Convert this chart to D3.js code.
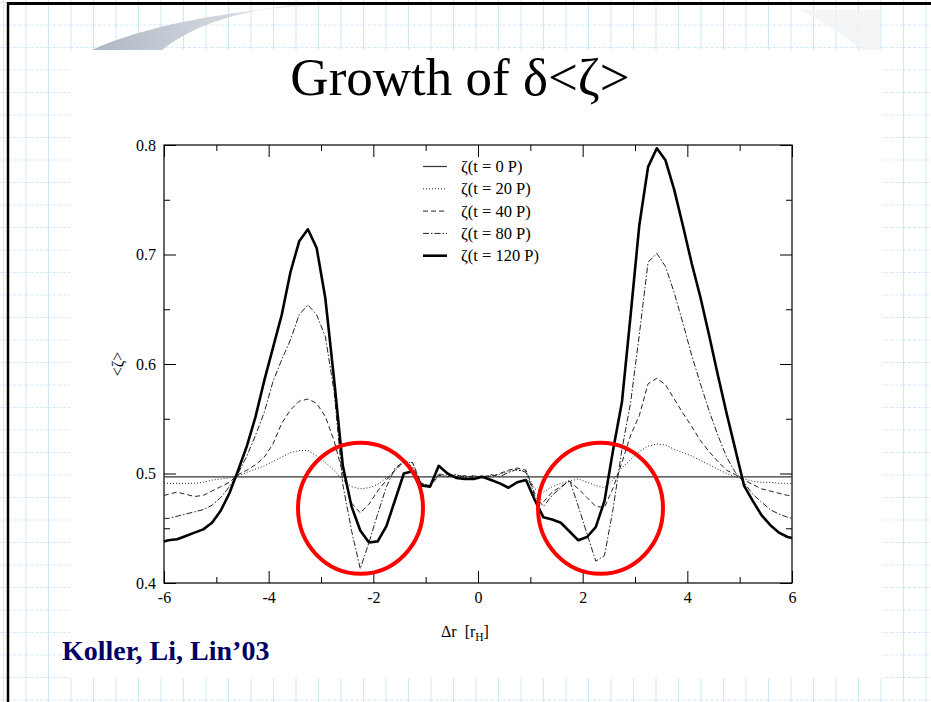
<!DOCTYPE html>
<html>
<head>
<meta charset="utf-8">
<script src="https://cdn.jsdelivr.net/npm/d3@7"></script>
<style>
  html, body { margin: 0; padding: 0; background: #fff; }
  svg { display: block; }
</style>
</head>
<body>
<svg id="slide" width="931" height="702"></svg>
<script>
// Radial positions (units of Hill radius)
const xs = [-6, -5.917, -5.75, -5.583, -5.417, -5.25, -5.083, -4.917, -4.75, -4.583,
  -4.417, -4.25, -4.083, -3.917, -3.75, -3.583, -3.417, -3.25, -3.083, -2.917,
  -2.75, -2.583, -2.417, -2.25, -2.083, -1.917, -1.75, -1.583, -1.417, -1.25,
  -1.083, -0.917, -0.75, -0.583, -0.417, -0.25, -0.083, 0.083, 0.25, 0.417,
  0.583, 0.75, 0.917, 1.083, 1.25, 1.417, 1.583, 1.75, 1.917, 2.083,
  2.25, 2.417, 2.583, 2.75, 2.917, 3.083, 3.25, 3.417, 3.583, 3.75,
  3.917, 4.083, 4.25, 4.417, 4.583, 4.75, 4.917, 5.083, 5.25, 5.417,
  5.583, 5.75, 5.917, 6];

// Initial profile is flat
const xs0 = [-6, 6];
const zeta0 = [0.497, 0.497];

const zeta20 = [0.491, 0.491, 0.491, 0.491, 0.491, 0.492, 0.494, 0.495, 0.496, 0.498,
  0.501, 0.504, 0.507, 0.511, 0.515, 0.519, 0.521, 0.521, 0.516, 0.510,
  0.503, 0.494, 0.488, 0.486, 0.487, 0.490, 0.496, 0.503, 0.510, 0.510,
  0.491, 0.489, 0.500, 0.498, 0.499, 0.497, 0.498, 0.497, 0.498, 0.499,
  0.502, 0.503, 0.502, 0.486, 0.483, 0.488, 0.491, 0.493, 0.495, 0.492,
  0.489, 0.487, 0.494, 0.505, 0.513, 0.520, 0.525, 0.527, 0.526, 0.522,
  0.519, 0.516, 0.512, 0.508, 0.504, 0.500, 0.497, 0.495, 0.493, 0.492,
  0.492, 0.491, 0.491, 0.491];

const zeta40 = [0.480, 0.481, 0.483, 0.481, 0.479, 0.480, 0.484, 0.488, 0.492, 0.499,
  0.503, 0.508, 0.515, 0.527, 0.546, 0.558, 0.566, 0.568, 0.564, 0.552,
  0.530, 0.500, 0.473, 0.464, 0.472, 0.484, 0.494, 0.503, 0.511, 0.510,
  0.490, 0.488, 0.498, 0.500, 0.497, 0.498, 0.496, 0.498, 0.497, 0.500,
  0.503, 0.505, 0.503, 0.482, 0.474, 0.483, 0.488, 0.493, 0.486, 0.478,
  0.470, 0.469, 0.487, 0.510, 0.535, 0.553, 0.582, 0.587, 0.581, 0.568,
  0.555, 0.543, 0.530, 0.520, 0.511, 0.503, 0.499, 0.494, 0.490, 0.486,
  0.484, 0.482, 0.480, 0.480];

const zeta80 = [0.459, 0.459, 0.461, 0.463, 0.465, 0.467, 0.471, 0.478, 0.488, 0.500,
  0.516, 0.535, 0.556, 0.584, 0.604, 0.622, 0.645, 0.654, 0.645, 0.625,
  0.575, 0.490, 0.448, 0.413, 0.437, 0.463, 0.488, 0.505, 0.511, 0.506,
  0.491, 0.489, 0.499, 0.497, 0.499, 0.496, 0.498, 0.496, 0.499, 0.497,
  0.501, 0.504, 0.501, 0.480, 0.470, 0.480, 0.487, 0.494, 0.470, 0.445,
  0.420, 0.425, 0.468, 0.522, 0.565, 0.627, 0.693, 0.701, 0.689, 0.665,
  0.637, 0.608, 0.582, 0.557, 0.535, 0.515, 0.501, 0.492, 0.481, 0.474,
  0.467, 0.463, 0.460, 0.459];

const zeta120 = [0.438, 0.439, 0.440, 0.443, 0.446, 0.449, 0.455, 0.466, 0.482, 0.503,
  0.525, 0.552, 0.585, 0.615, 0.645, 0.684, 0.712, 0.723, 0.706, 0.660,
  0.586, 0.507, 0.470, 0.448, 0.437, 0.438, 0.452, 0.476, 0.500, 0.502,
  0.489, 0.488, 0.507, 0.500, 0.496, 0.495, 0.495, 0.497, 0.494, 0.491,
  0.487, 0.492, 0.494, 0.476, 0.460, 0.458, 0.455, 0.447, 0.439, 0.442,
  0.451, 0.475, 0.522, 0.565, 0.645, 0.727, 0.780, 0.797, 0.786, 0.759,
  0.726, 0.692, 0.661, 0.626, 0.590, 0.555, 0.522, 0.489, 0.475, 0.462,
  0.453, 0.446, 0.442, 0.441];

const seriesLabels = ["ζ(t = 0 P)", "ζ(t = 20 P)", "ζ(t = 40 P)", "ζ(t = 80 P)", "ζ(t = 120 P)"];
const xTicks = [-6, -4, -2, 0, 2, 4, 6];
const xMinorTicks = [-5, -3, -1, 1, 3, 5];
const yTicks = [0.4, 0.5, 0.6, 0.7, 0.8];
const yMinorTicks = [0.45, 0.55, 0.65, 0.75];

// Highlighted dip regions: centre (x, value) and half-widths in data units
const dipCentersX = [-2.245, 2.341];
const dipCenterY = 0.4683;
const dipRadiusX = 1.194;
const dipRadiusY = 0.0598;

const series = [
  { label: seriesLabels[0], x: xs0, y: zeta0, width: 1.2, dash: null, color: "#333" },
  { label: seriesLabels[1], x: xs, y: zeta20, width: 1, dash: "1,2", color: "#222" },
  { label: seriesLabels[2], x: xs, y: zeta40, width: 1, dash: "5,3", color: "#222" },
  { label: seriesLabels[3], x: xs, y: zeta80, width: 1, dash: "6,2,1.5,2", color: "#222" },
  { label: seriesLabels[4], x: xs, y: zeta120, width: 2.6, dash: null, color: "#000" }
];

const svg = d3.select("#slide");
const W = 931, H = 702;
const serif = "'Liberation Serif', 'Times New Roman', serif";

// ---------- slide background ----------
const defs = svg.append("defs");
const grid = defs.append("pattern")
  .attr("id", "gridPat").attr("patternUnits", "userSpaceOnUse")
  .attr("width", 22.5).attr("height", 22.5).attr("x", 3).attr("y", 2);
grid.append("rect").attr("width", 22.5).attr("height", 22.5).attr("fill", "#fff");
grid.append("line").attr("x1", 0.5).attr("x2", 0.5).attr("y1", 0).attr("y2", 22.5)
  .attr("stroke", "#cfe8f6").attr("stroke-width", 1);
grid.append("line").attr("x1", 0).attr("x2", 22.5).attr("y1", 0.5).attr("y2", 0.5)
  .attr("stroke", "#cfe8f6").attr("stroke-width", 1).attr("stroke-dasharray", "3,2");

svg.append("rect").attr("width", W).attr("height", H).attr("fill", "url(#gridPat)");

const swoosh = defs.append("linearGradient").attr("id", "swooshGrad")
  .attr("x1", "0%").attr("x2", "100%").attr("y1", "0%").attr("y2", "0%");
swoosh.append("stop").attr("offset", "0%").attr("stop-color", "#aeb8c4");
swoosh.append("stop").attr("offset", "100%").attr("stop-color", "#eef1f4");
svg.append("path")
  .attr("d", "M92,50 C140,28 220,10 330,4 L300,4 C230,12 190,28 162,50 Z")
  .attr("fill", "url(#swooshGrad)");
svg.append("path")
  .attr("d", "M800,10 L880,10 L880,70 C860,45 830,25 800,10 Z")
  .attr("fill", "#f1f3f5").attr("opacity", 0.8);

// white content panel
svg.append("rect").attr("x", 70).attr("y", 50).attr("width", 812).attr("height", 628).attr("fill", "#fff");

// slide frame lines
svg.append("line").attr("x1", 7).attr("x2", W).attr("y1", 3.5).attr("y2", 3.5)
  .attr("stroke", "#000").attr("stroke-width", 3);
svg.append("line").attr("x1", 8).attr("x2", 8).attr("y1", 2).attr("y2", H)
  .attr("stroke", "#000").attr("stroke-width", 2.5);

// ---------- title ----------
svg.append("text").attr("x", 460).attr("y", 95)
  .attr("text-anchor", "middle").attr("font-family", serif).attr("font-size", 53)
  .attr("fill", "#000").text("Growth of δ<ζ>");

// ---------- plot ----------
const x = d3.scaleLinear().domain([-6, 6]).range([164, 792]);
const y = d3.scaleLinear().domain([0.4, 0.8]).range([583, 145]);

const plot = svg.append("g");
const major = 12, minor = 6;

function styleAxis(g) {
  g.select(".domain").remove();
  g.selectAll(".tick line").attr("stroke", "#000").attr("stroke-width", 1);
  g.selectAll("text").attr("font-family", serif).attr("font-size", 16).attr("fill", "#000");
}

plot.append("g").attr("transform", `translate(0,${y(0.4)})`)
  .call(d3.axisBottom(x).tickValues(xTicks).tickSize(-major).tickPadding(9).tickFormat(d => String(d)))
  .call(styleAxis);
plot.append("g").attr("transform", `translate(0,${y(0.4)})`)
  .call(d3.axisBottom(x).tickValues(xMinorTicks).tickSize(-minor).tickFormat(""))
  .call(styleAxis);
plot.append("g").attr("transform", `translate(0,${y(0.8)})`)
  .call(d3.axisTop(x).tickValues(xTicks).tickSize(-major).tickFormat(""))
  .call(styleAxis);
plot.append("g").attr("transform", `translate(0,${y(0.8)})`)
  .call(d3.axisTop(x).tickValues(xMinorTicks).tickSize(-minor).tickFormat(""))
  .call(styleAxis);

plot.append("g").attr("transform", `translate(${x(-6)},0)`)
  .call(d3.axisLeft(y).tickValues(yTicks).tickSize(-major).tickPadding(8).tickFormat(d3.format(".1f")))
  .call(styleAxis);
plot.append("g").attr("transform", `translate(${x(-6)},0)`)
  .call(d3.axisLeft(y).tickValues(yMinorTicks).tickSize(-minor).tickFormat(""))
  .call(styleAxis);
plot.append("g").attr("transform", `translate(${x(6)},0)`)
  .call(d3.axisRight(y).tickValues(yTicks).tickSize(-major).tickFormat(""))
  .call(styleAxis);
plot.append("g").attr("transform", `translate(${x(6)},0)`)
  .call(d3.axisRight(y).tickValues(yMinorTicks).tickSize(-minor).tickFormat(""))
  .call(styleAxis);

plot.append("rect")
  .attr("x", x(-6)).attr("y", y(0.8))
  .attr("width", x(6) - x(-6)).attr("height", y(0.4) - y(0.8))
  .attr("fill", "none").attr("stroke", "#000").attr("stroke-width", 1.2);

// curves
const line = d3.line().x(d => x(d[0])).y(d => y(d[1]));
series.forEach(s => {
  plot.append("path")
    .datum(s.x.map((v, i) => [v, s.y[i]]))
    .attr("d", line)
    .attr("fill", "none")
    .attr("stroke", s.color)
    .attr("stroke-width", s.width)
    .attr("stroke-linejoin", "round")
    .attr("stroke-dasharray", s.dash);
});

// legend
const legend = plot.append("g");
series.forEach((s, i) => {
  const ly = 166.5 + i * 22.3;
  legend.append("line")
    .attr("x1", 423).attr("x2", 447).attr("y1", ly).attr("y2", ly)
    .attr("stroke", s.color).attr("stroke-width", s.width)
    .attr("stroke-dasharray", s.dash);
  legend.append("text")
    .attr("x", 461).attr("y", ly + 5.5)
    .attr("font-family", serif).attr("font-size", 16.5).attr("fill", "#000")
    .text(s.label);
});

// axis titles
svg.append("text")
  .attr("transform", `translate(123,${y(0.6)}) rotate(-90)`)
  .attr("text-anchor", "middle").attr("font-family", serif).attr("font-size", 16)
  .text("<ζ>");
const xl = svg.append("text")
  .attr("x", 441).attr("y", 637)
  .attr("font-family", serif).attr("font-size", 16);
xl.append("tspan").text("Δr");
xl.append("tspan").attr("dx", 8).text("[r");
xl.append("tspan").attr("font-size", 11.5).attr("dy", 4).text("H");
xl.append("tspan").attr("dy", -4).text("]");

// highlighted dip regions
plot.selectAll("ellipse.dip")
  .data(dipCentersX)
  .join("ellipse")
  .attr("class", "dip")
  .attr("cx", d => x(d))
  .attr("cy", y(dipCenterY))
  .attr("rx", x(dipRadiusX) - x(0))
  .attr("ry", y(0.4) - y(0.4 + dipRadiusY))
  .attr("fill", "none")
  .attr("stroke", "#ff0000")
  .attr("stroke-width", 4);

// citation
svg.append("text")
  .attr("x", 62).attr("y", 660)
  .attr("font-family", serif).attr("font-size", 28).attr("font-weight", "bold")
  .attr("fill", "#000066")
  .text("Koller, Li, Lin’03");
</script>
</body>
</html>
